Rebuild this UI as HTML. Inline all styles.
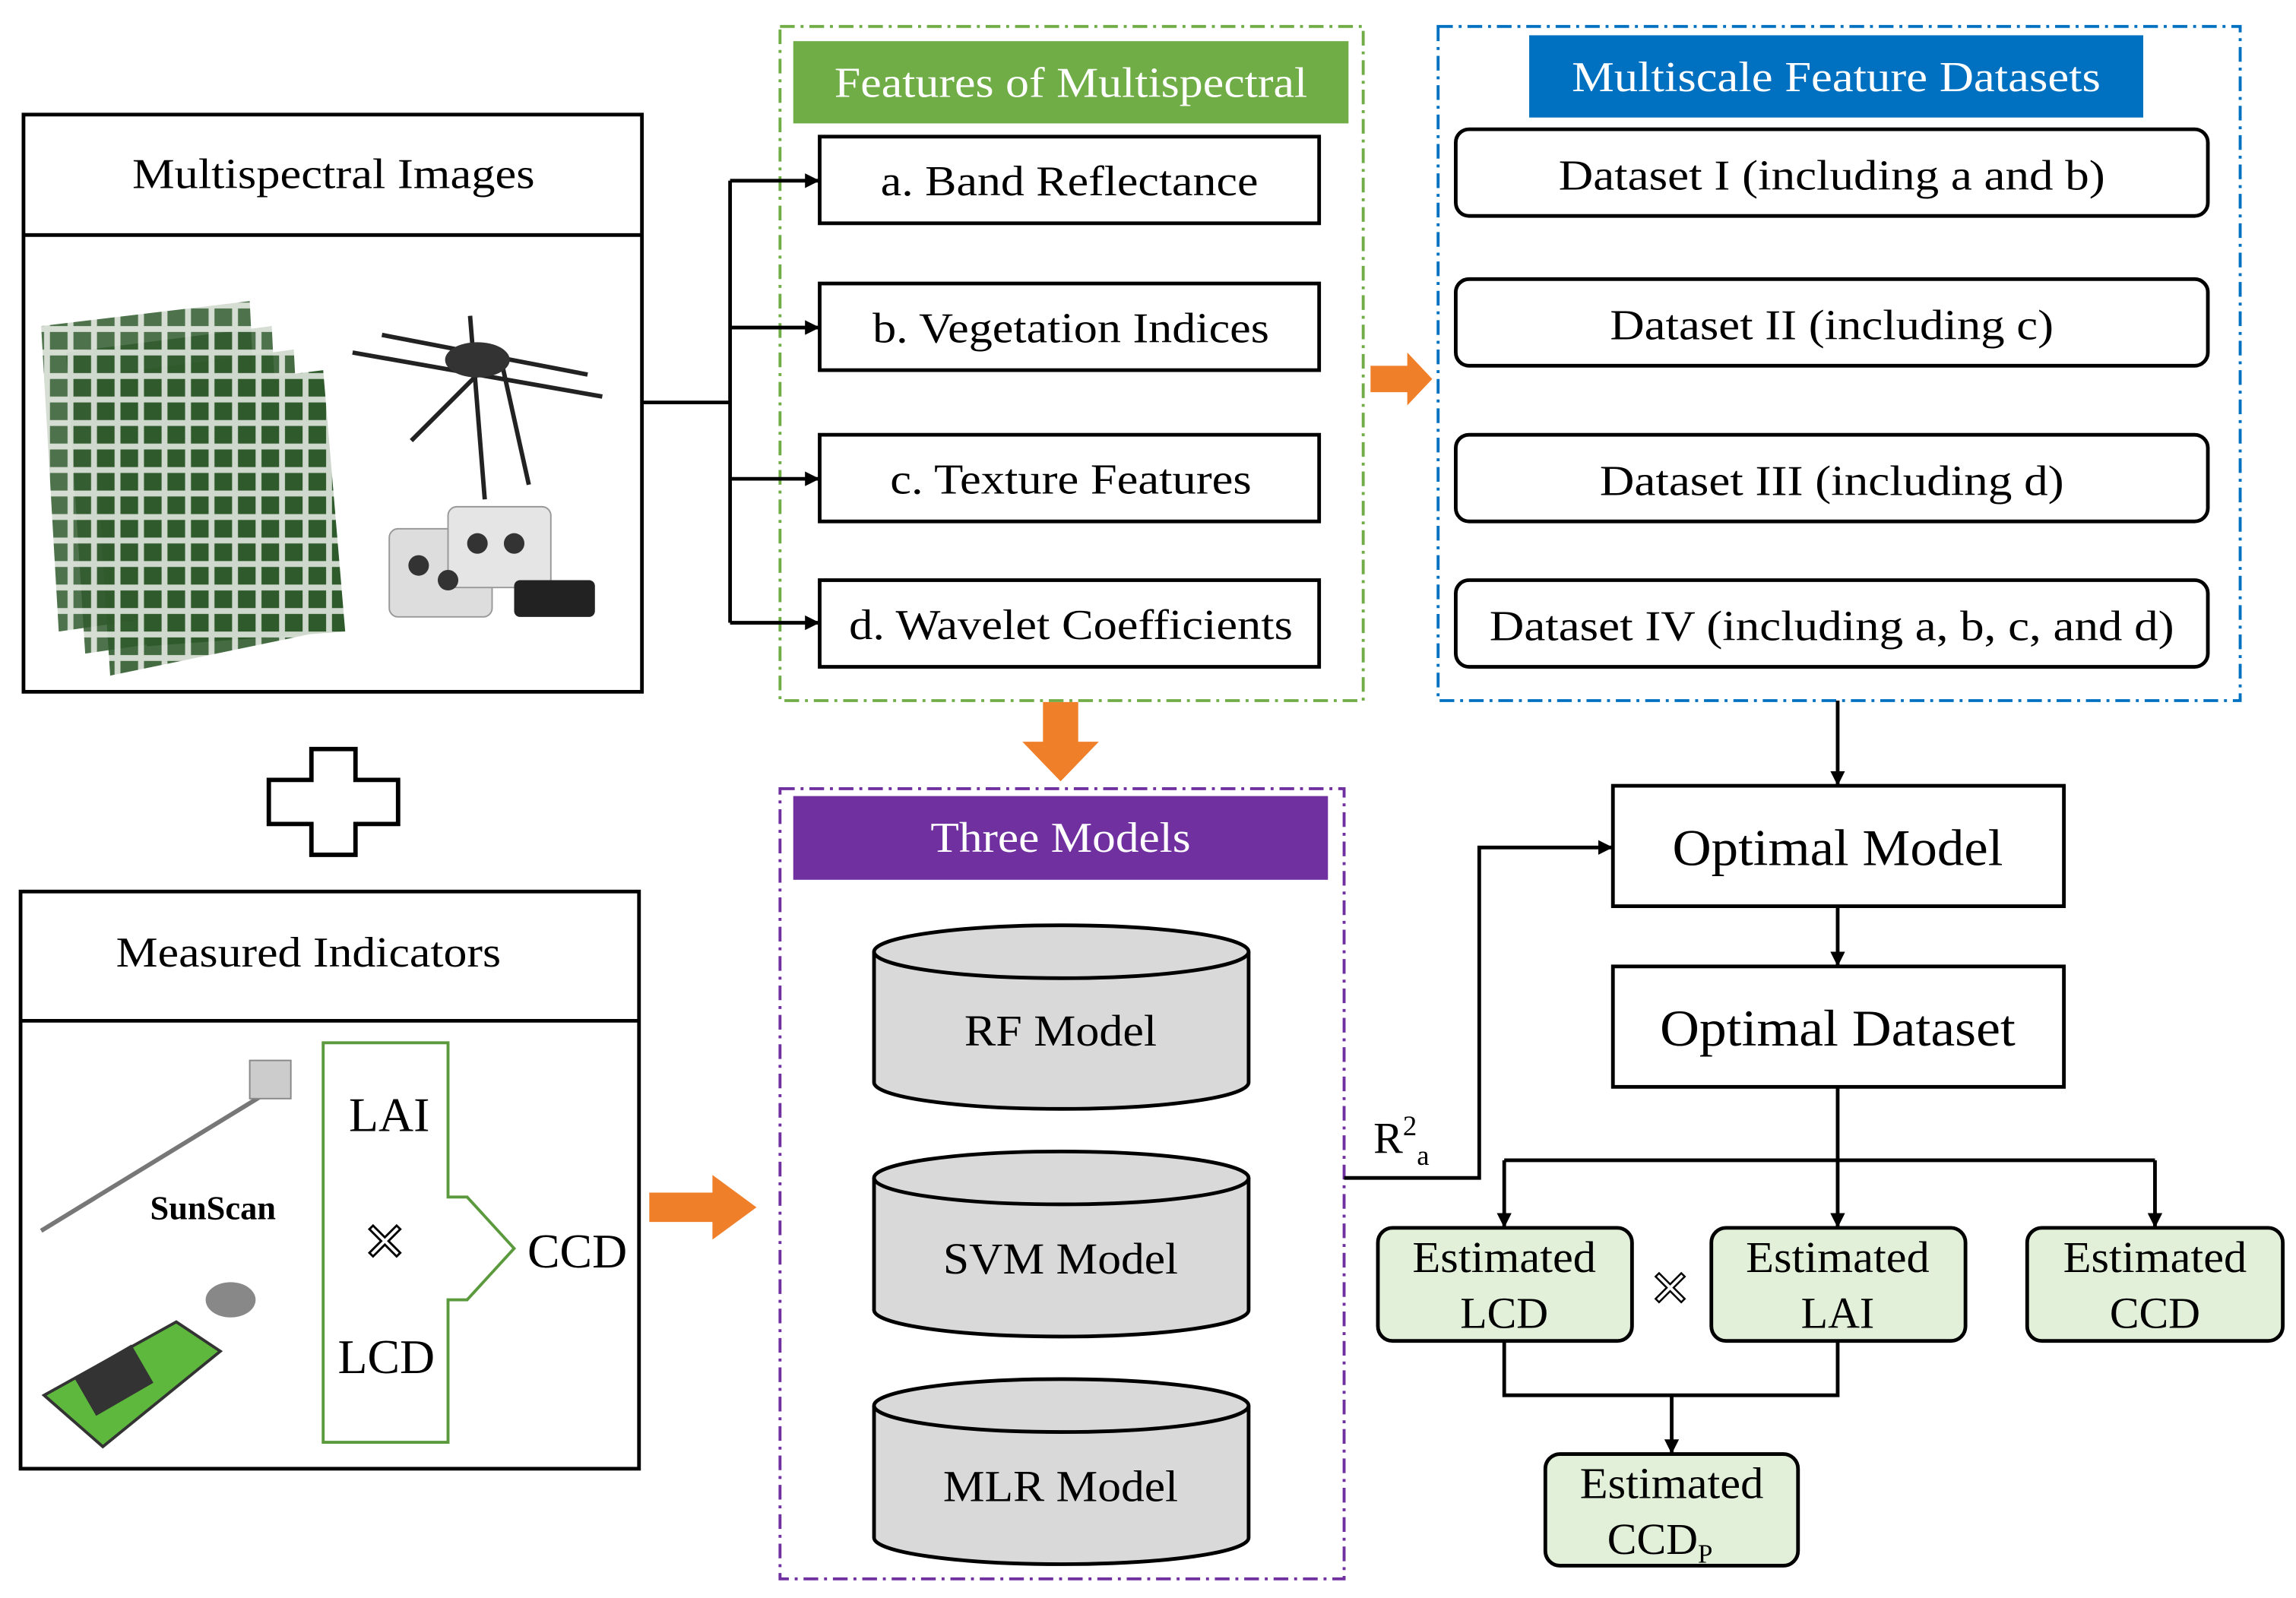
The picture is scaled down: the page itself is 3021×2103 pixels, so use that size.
<!DOCTYPE html>
<html><head><meta charset="utf-8"><style>
html,body{margin:0;padding:0;background:#fff}
svg{display:block}
text{font-family:"Liberation Serif",serif;fill:#000}
</style></head><body>
<svg width="3021" height="2103" viewBox="0 0 1563 1088" xmlns="http://www.w3.org/2000/svg">
<defs>
<marker id="ah" markerWidth="10" markerHeight="10" refX="9" refY="5" orient="auto" markerUnits="userSpaceOnUse"><path d="M0,0 L10,5 L0,10 z" fill="#000"/></marker>
<pattern id="grid" width="16" height="16" patternUnits="userSpaceOnUse"><rect width="16" height="16" fill="#cfd8cc"/><rect x="2" y="2" width="12" height="12" fill="#2f5a2c"/></pattern>
</defs>
<rect width="1563" height="1088" fill="#fff"/>
<rect x="16" y="78" width="421" height="393" fill="none" stroke="#000" stroke-width="2.5"/>
<line x1="16" y1="160" x2="437" y2="160" stroke="#000" stroke-width="2.5"/>
<text x="227" y="128" font-size="29" text-anchor="middle" textLength="274" lengthAdjust="spacingAndGlyphs">Multispectral  Images</text>
<g>
<polygon points="28,222 170,205 180,410 40,430" fill="url(#grid)" opacity="0.85"/>
<polygon points="45,240 185,222 195,425 58,445" fill="url(#grid)" opacity="0.85"/>
<polygon points="62,256 200,238 210,432 75,460" fill="url(#grid)" opacity="0.9"/>
<polygon points="80,270 220,252 235,430 100,440" fill="url(#grid)"/>
</g>
<g stroke="#222" stroke-width="3" fill="none">
<line x1="240" y1="240" x2="410" y2="270"/><line x1="260" y1="228" x2="400" y2="255"/>
<line x1="320" y1="215" x2="330" y2="340"/><line x1="340" y1="240" x2="280" y2="300"/><line x1="340" y1="240" x2="360" y2="330"/>
</g>
<ellipse cx="325" cy="245" rx="22" ry="12" fill="#333"/>
<rect x="265" y="360" width="70" height="60" rx="6" fill="#ddd" stroke="#999"/>
<rect x="305" y="345" width="70" height="55" rx="6" fill="#e5e5e5" stroke="#999"/>
<circle cx="285" cy="385" r="7" fill="#333"/><circle cx="305" cy="395" r="7" fill="#333"/><circle cx="325" cy="370" r="7" fill="#333"/><circle cx="350" cy="370" r="7" fill="#333"/>
<rect x="350" y="395" width="55" height="25" rx="4" fill="#222"/>
<polygon points="212,510 242,510 242,531 271,531 271,561 242,561 242,582 212,582 212,561 183,561 183,531 212,531" fill="#fff" stroke="#000" stroke-width="3"/>
<rect x="14" y="607" width="421" height="393" fill="none" stroke="#000" stroke-width="2.5"/>
<line x1="14" y1="695" x2="435" y2="695" stroke="#000" stroke-width="2.5"/>
<text x="210" y="658" font-size="29" text-anchor="middle" textLength="262" lengthAdjust="spacingAndGlyphs">Measured Indicators</text>
<line x1="28" y1="838" x2="180" y2="745" stroke="#777" stroke-width="3"/>
<rect x="170" y="722" width="28" height="26" fill="#ccc" stroke="#888"/>
<text x="145" y="830" font-size="23" font-weight="bold" text-anchor="middle">SunScan</text>
<path d="M30,950 L120,900 L150,920 L70,985 Z" fill="#5fb83e" stroke="#333" stroke-width="2"/>
<rect x="55" y="925" width="45" height="30" fill="#333" transform="rotate(-30 77 940)"/>
<ellipse cx="157" cy="885" rx="17" ry="12" fill="#888"/>
<polygon points="220,710 305,710 305,815 318,815 350,850 318,885 305,885 305,982 220,982" fill="none" stroke="#5a9a3c" stroke-width="2"/>
<text x="265" y="770" font-size="33" text-anchor="middle">LAI</text>
<text x="262" y="858" font-size="36" text-anchor="middle" stroke="#000" stroke-width="1.5" style="fill:#fff">✕</text>
<text x="263" y="935" font-size="33" text-anchor="middle">LCD</text>
<text x="393" y="863" font-size="33" text-anchor="middle">CCD</text>
<polygon points="442,812 485,812 485,800 515,822 485,844 485,832 442,832" fill="#f07f2a"/>
<polygon points="933,249 958,249 958,240 975,258 958,276 958,267 933,267" fill="#f07f2a"/>
<polygon points="710,478 734,478 734,505 748,505 722,532 696,505 710,505" fill="#f07f2a"/>
<rect x="531" y="18" width="397" height="459" fill="none" stroke="#70ad47" stroke-width="2" stroke-dasharray="10,4,2,4"/>
<rect x="540" y="28" width="378" height="56" fill="#70ad47"/>
<text x="729" y="66" font-size="29" text-anchor="middle" textLength="322" lengthAdjust="spacingAndGlyphs" style="fill:#fff">Features  of Multispectral</text>
<g fill="#fff" stroke="#000" stroke-width="2.5">
<rect x="558" y="93" width="340" height="59"/><rect x="558" y="193" width="340" height="59"/>
<rect x="558" y="296" width="340" height="59"/><rect x="558" y="395" width="340" height="59"/>
</g>
<g font-size="29" text-anchor="middle">
<text x="728" y="133" textLength="257" lengthAdjust="spacingAndGlyphs">a. Band Reflectance</text>
<text x="729" y="233" textLength="270" lengthAdjust="spacingAndGlyphs">b. Vegetation  Indices</text>
<text x="729" y="336" textLength="246" lengthAdjust="spacingAndGlyphs">c. Texture Features</text>
<text x="729" y="435" textLength="302" lengthAdjust="spacingAndGlyphs">d. Wavelet Coefficients</text>
</g>
<g stroke="#000" stroke-width="2.5" fill="none">
<line x1="437" y1="274" x2="497" y2="274"/><line x1="497" y1="123" x2="497" y2="424"/>
<line x1="497" y1="123" x2="557" y2="123" marker-end="url(#ah)"/>
<line x1="497" y1="223" x2="557" y2="223" marker-end="url(#ah)"/>
<line x1="497" y1="326" x2="557" y2="326" marker-end="url(#ah)"/>
<line x1="497" y1="424" x2="557" y2="424" marker-end="url(#ah)"/>
</g>
<rect x="979" y="18" width="546" height="459" fill="none" stroke="#0070c0" stroke-width="2" stroke-dasharray="10,4,2,4"/>
<rect x="1041" y="24" width="418" height="56" fill="#0070c0"/>
<text x="1250" y="62" font-size="29" text-anchor="middle" textLength="360" lengthAdjust="spacingAndGlyphs" style="fill:#fff">Multiscale  Feature Datasets</text>
<g fill="#fff" stroke="#000" stroke-width="2.5">
<rect x="991" y="88" width="512" height="59" rx="9"/><rect x="991" y="190" width="512" height="59" rx="9"/>
<rect x="991" y="296" width="512" height="59" rx="9"/><rect x="991" y="395" width="512" height="59" rx="9"/>
</g>
<g font-size="29" text-anchor="middle">
<text x="1247" y="129" textLength="372" lengthAdjust="spacingAndGlyphs">Dataset I (including  a and b)</text>
<text x="1247" y="231" textLength="302" lengthAdjust="spacingAndGlyphs">Dataset II (including  c)</text>
<text x="1247" y="337" textLength="316" lengthAdjust="spacingAndGlyphs">Dataset III (including  d)</text>
<text x="1247" y="436" textLength="466" lengthAdjust="spacingAndGlyphs">Dataset IV (including  a, b, c, and d)</text>
</g>
<rect x="531" y="537" width="384" height="538" fill="none" stroke="#7030a0" stroke-width="2" stroke-dasharray="10,4,2,4"/>
<rect x="540" y="542" width="364" height="57" fill="#7030a0"/>
<text x="722" y="580" font-size="29" text-anchor="middle" textLength="177" lengthAdjust="spacingAndGlyphs" style="fill:#fff">Three Models</text>
<g fill="#d9d9d9" stroke="#000" stroke-width="2.5">
<path d="M595,648 L595,737 A127.5,18 0 0 0 850,737 L850,648"/><ellipse cx="722.5" cy="648" rx="127.5" ry="18"/>
<path d="M595,802 L595,892 A127.5,18 0 0 0 850,892 L850,802"/><ellipse cx="722.5" cy="802" rx="127.5" ry="18"/>
<path d="M595,957 L595,1047 A127.5,18 0 0 0 850,1047 L850,957"/><ellipse cx="722.5" cy="957" rx="127.5" ry="18"/>
</g>
<g font-size="30" text-anchor="middle">
<text x="722" y="712" textLength="131" lengthAdjust="spacingAndGlyphs">RF Model</text>
<text x="722" y="867" textLength="160" lengthAdjust="spacingAndGlyphs">SVM Model</text>
<text x="722" y="1022" textLength="160" lengthAdjust="spacingAndGlyphs">MLR Model</text>
</g>
<g stroke="#000" stroke-width="2.5" fill="none">
<polyline points="915,802 1007,802 1007,577 1097,577" marker-end="url(#ah)"/>
<line x1="1251" y1="477" x2="1251" y2="534" marker-end="url(#ah)"/>
<line x1="1251" y1="617" x2="1251" y2="657" marker-end="url(#ah)"/>
<line x1="1251" y1="740" x2="1251" y2="790"/>
<line x1="1024" y1="790" x2="1467" y2="790"/>
<line x1="1024" y1="790" x2="1024" y2="835" marker-end="url(#ah)"/>
<line x1="1251" y1="790" x2="1251" y2="835" marker-end="url(#ah)"/>
<line x1="1467" y1="790" x2="1467" y2="835" marker-end="url(#ah)"/>
<polyline points="1024,913 1024,950 1251,950 1251,913"/>
<line x1="1138" y1="950" x2="1138" y2="989" marker-end="url(#ah)"/>
</g>
<text x="935" y="785" font-size="30">R<tspan font-size="19" dy="-12">2</tspan><tspan font-size="19" dy="20">a</tspan></text>
<rect x="1098" y="535" width="307" height="82" fill="#fff" stroke="#000" stroke-width="2.5"/>
<text x="1251" y="589" font-size="35" text-anchor="middle" textLength="225" lengthAdjust="spacingAndGlyphs">Optimal Model</text>
<rect x="1098" y="658" width="307" height="82" fill="#fff" stroke="#000" stroke-width="2.5"/>
<text x="1251" y="712" font-size="35" text-anchor="middle" textLength="242" lengthAdjust="spacingAndGlyphs">Optimal Dataset</text>
<g fill="#e2efd9" stroke="#000" stroke-width="2.5">
<rect x="938" y="836" width="173" height="77" rx="10"/><rect x="1165" y="836" width="173" height="77" rx="10"/>
<rect x="1380" y="836" width="174" height="77" rx="10"/><rect x="1052" y="990" width="172" height="76" rx="10"/>
</g>
<g font-size="30" text-anchor="middle">
<text x="1024" y="866" textLength="125" lengthAdjust="spacingAndGlyphs">Estimated</text><text x="1024" y="904">LCD</text>
<text x="1251" y="866" textLength="125" lengthAdjust="spacingAndGlyphs">Estimated</text><text x="1251" y="904">LAI</text>
<text x="1467" y="866" textLength="125" lengthAdjust="spacingAndGlyphs">Estimated</text><text x="1467" y="904">CCD</text>
<text x="1138" y="1020" textLength="125" lengthAdjust="spacingAndGlyphs">Estimated</text><text x="1130" y="1058">CCD<tspan font-size="18" dy="6">P</tspan></text>
</g>
<text x="1137" y="889" font-size="34" text-anchor="middle" stroke="#000" stroke-width="1.3" style="fill:#fff">✕</text>
</svg>
</body></html>
